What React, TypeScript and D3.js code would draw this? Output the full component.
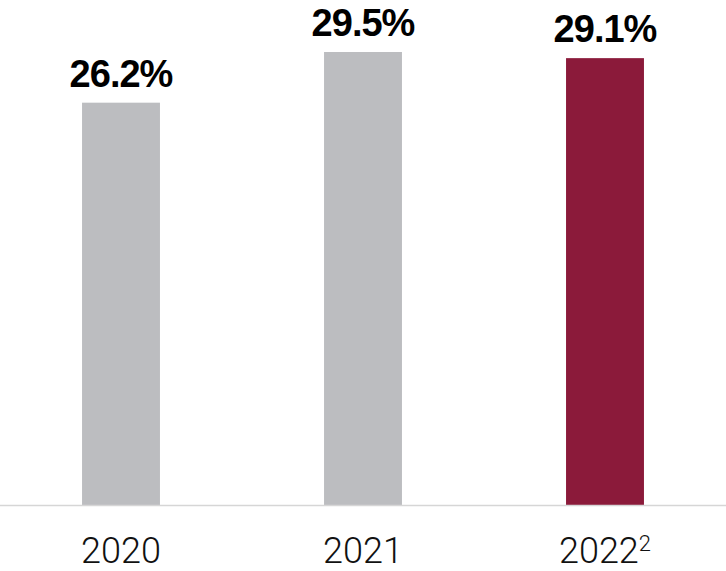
import React from "react";
import * as d3 from "d3";

const categories = ["2020", "2021", "2022"];
const superscripts = ["", "", "2"];
const values = [26.2, 29.5, 29.1];
const highlight = [false, false, true];

const W = 726;
const H = 571;
const baseY = 505;

export default function App() {
  const x = d3
    .scaleBand<string>()
    .domain(categories)
    .range([0, W])
    .paddingInner(0.678)
    .paddingOuter(0.339);
  const y = d3.scaleLinear().domain([0, 29.5]).range([baseY, 52]);

  return (
    <svg
      width={W}
      height={H}
      style={{ position: "absolute", left: 0, top: 0, display: "block" }}
    >
      <rect width={W} height={H} fill="#ffffff" />
      {categories.map((c, i) => {
        const bx = x(c)!;
        const by = y(values[i]);
        const cx = bx + x.bandwidth() / 2;
        return (
          <g key={c}>
            <rect
              x={bx}
              y={by}
              width={x.bandwidth()}
              height={baseY - by}
              fill={highlight[i] ? "#8B1A3A" : "#BCBDC0"}
            />
            <text
              x={cx}
              y={by - 16}
              textAnchor="middle"
              fontFamily="Liberation Sans, Arial, sans-serif"
              fontWeight={700}
              fontSize={38}
              letterSpacing={-1}
              fill="#000"
            >
              {d3.format(".1f")(values[i])}%
            </text>
            <text
              x={cx}
              y={563}
              textAnchor="middle"
              fontFamily="Roboto, sans-serif"
              fontWeight={300}
              fontSize={36}
              fill="#111"
            >
              {c}
              {superscripts[i] ? (
                <tspan fontSize={22} dy={-12}>
                  {superscripts[i]}
                </tspan>
              ) : null}
            </text>
          </g>
        );
      })}
      <line x1={0} x2={W} y1={baseY + 0.5} y2={baseY + 0.5} stroke="#D6D6D6" strokeWidth={1.5} />
    </svg>
  );
}
